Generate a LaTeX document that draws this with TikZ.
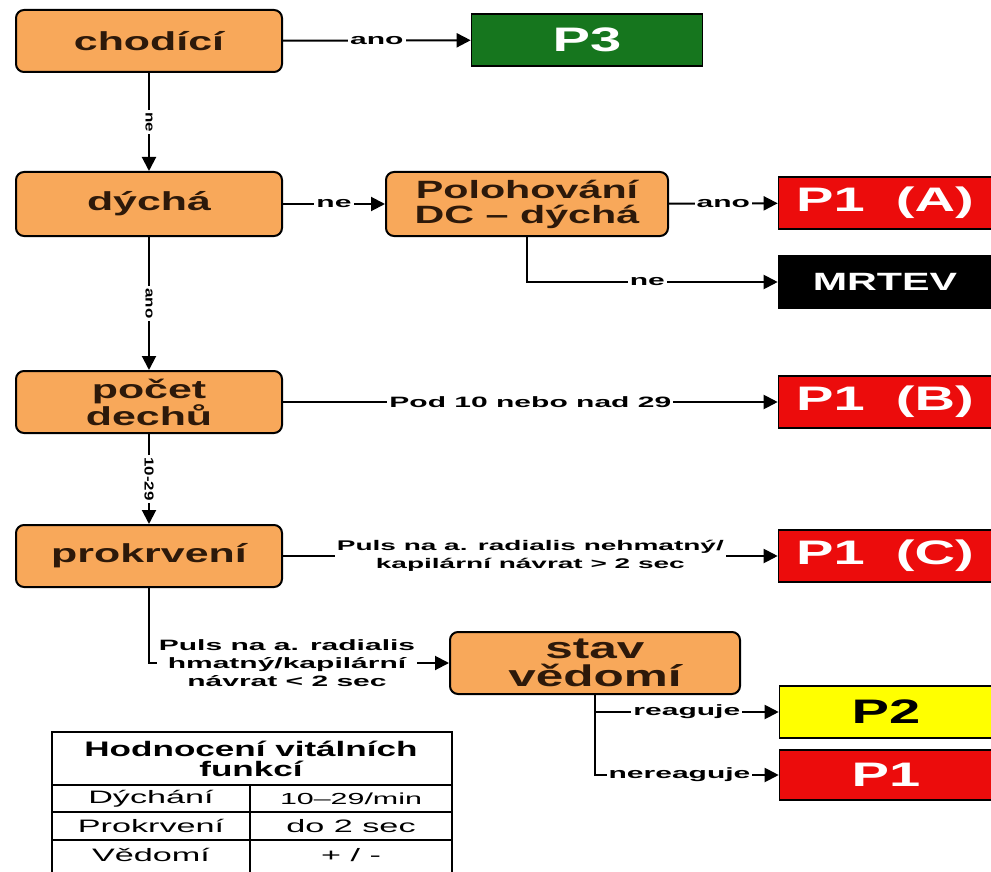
\documentclass[tikz,border=0pt]{standalone}
\usepackage{fontspec}
\setmainfont{Liberation Sans}
\newfontfamily\boxfont{Liberation Sans}[FakeStretch=1.65]
\newfontfamily\edgefont{Liberation Sans}[FakeStretch=2]
\newfontfamily\notefont{Liberation Sans}[FakeStretch=1.3]
\newfontfamily\headfont{Liberation Sans}[FakeStretch=1.67]
\newfontfamily\tabfont{Liberation Sans}[FakeStretch=1.9]
\usetikzlibrary{arrows.meta}
\definecolor{krokbarva}{RGB}{248,168,90}
\definecolor{cervena}{RGB}{236,12,12}
\definecolor{zelena}{RGB}{22,118,30}
\definecolor{zluta}{RGB}{255,255,0}
\definecolor{hneda}{RGB}{45,25,10}
\tikzset{
  krok/.style={draw,line width=1pt,rounded corners=4pt,fill=krokbarva,text=hneda,
    align=center,inner sep=0pt,minimum width=133pt,minimum height=31pt,
    font=\boxfont\bfseries\fontsize{13}{13.5}\selectfont},
  kategorie/.style={draw,line width=.8pt,inner sep=0pt,minimum width=106.5pt,
    minimum height=26pt,text=white,font=\boxfont\bfseries\fontsize{17}{18}\selectfont},
  spoj/.style={line width=1pt,-{Triangle[length=7pt,width=7pt]}},
  popis/.style={fill=white,inner sep=1pt,font=\edgefont\bfseries\fontsize{7.5}{8}\selectfont},
  svisly/.style={popis,rotate=-90,font=\notefont\bfseries\fontsize{6.5}{7}\selectfont},
  bunka/.style={inner sep=0pt,font=\tabfont\fontsize{9}{10}\selectfont}
}
\begin{document}
\begin{tikzpicture}[x=.5pt,y=-.5pt]
\useasboundingbox (0,0) rectangle (991,872);
%
% kroky trideni
\node[krok] (chod) at (149,41) {chodící};
\node[krok,minimum height=32pt] (dycha) at (149,204) {dýchá};
\node[krok] (pocet) at (149,402) {počet\\dechů};
\node[krok] (prok) at (149,556) {prokrvení};
\node[krok,minimum width=141pt,minimum height=32pt,font=\boxfont\bfseries\fontsize{12.5}{12.5}\selectfont]
  (polo) at (527,204) {Polohování\\DC – dýchá};
\node[krok,minimum width=145pt,font=\boxfont\bfseries\fontsize{15}{14}\selectfont]
  (stav) at (595,663) {stav\\vědomí};
%
% kategorie
\node[kategorie,fill=zelena,minimum width=115.5pt] (p3) at (587,40) {P3};
\node[kategorie,fill=cervena] (p1a) at (885,203) {P1\ \ (A)};
\node[kategorie,fill=black,font=\boxfont\bfseries\fontsize{12.5}{13}\selectfont] (mrtev) at (885,282) {MRTEV};
\node[kategorie,fill=cervena] (p1b) at (885,402) {P1\ \ (B)};
\node[kategorie,fill=cervena] (p1c) at (885,556) {P1\ \ (C)};
\node[kategorie,fill=zluta,text=black] (p2) at (886,712) {P2};
\node[kategorie,fill=cervena,minimum height=25pt] (p1) at (886,775) {P1};
%
% spoje
\draw[spoj] (chod) -- node[popis] {ano} (p3);
\draw[spoj] (chod) -- node[svisly] {ne} (dycha);
\draw[spoj] (dycha) -- node[popis] {ne} (polo);
\draw[spoj] (polo) -- node[popis] {ano} (p1a);
\draw[spoj] (polo.south) |- node[popis,pos=.74] {ne} (mrtev.west);
\draw[spoj] (dycha) -- node[svisly] {ano} (pocet);
\draw[spoj] (pocet) -- node[popis] {Pod 10 nebo nad 29} (p1b);
\draw[spoj] (pocet) -- node[svisly] {10-29} (prok);
\draw[spoj] (prok) -- node[popis,align=center,font=\edgefont\bfseries\fontsize{7}{9}\selectfont]
  {Puls na a. radialis nehmatný/\\kapilární návrat > 2 sec} (p1c);
\draw[spoj] (prok.south) |- node[popis,pos=.73,align=center,font=\edgefont\bfseries\fontsize{7.5}{9}\selectfont]
  {Puls na a. radialis\\hmatný/kapilární\\návrat < 2 sec} (stav.west);
\draw[spoj] (stav.south) |- node[popis,pos=.75] {reaguje} (p2.west);
\draw[spoj] (stav.south) |- node[popis,pos=.73] {nereaguje} (p1.west);
%
% tabulka
\draw[line width=1pt] (52,732) rectangle (452,890);
\foreach \y in {785,812,840}
\draw[line width=.7pt] (52,\y) -- (452,\y);
\draw[line width=.7pt] (250,785) -- (250,890);
\node[bunka,align=center,font=\headfont\bfseries\fontsize{10.5}{10}\selectfont] (hlav) at (251,759)
  {Hodnocení vitálních\\funkcí};
\foreach \i/\y/\a/\b in {1/799/Dýchání/{\fontsize{8}{9}\selectfont 10–29/min},
  2/826/Prokrvení/{do 2 sec},3/855/Vědomí/{+ / -}}{
\node[bunka] (r\i a) at (151,\y) {\a};
\node[bunka] (r\i b) at (351,\y) {\b};
}
\end{tikzpicture}
\end{document}
